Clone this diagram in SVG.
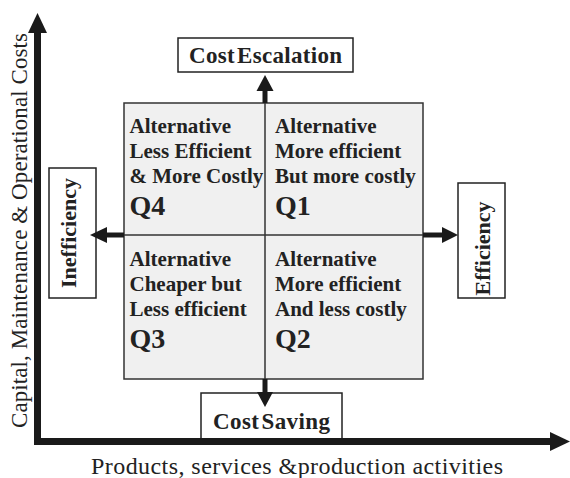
<svg xmlns="http://www.w3.org/2000/svg" width="570" height="478" viewBox="0 0 570 478">
<style>
.box{fill:#ffffff;stroke:#222;stroke-width:1.5}
.quad{fill:#f0f0f0;stroke:#333;stroke-width:1.5}
.div{stroke:#333;stroke-width:1.5;fill:none}
.lbl{font-family:"Liberation Serif","Times New Roman",serif;font-weight:bold;font-size:22px;fill:#222}
.lbl2{font-family:"Liberation Serif","Times New Roman",serif;font-weight:bold;font-size:23px;fill:#222;word-spacing:-4px}
.qt{font-family:"Liberation Serif","Times New Roman",serif;font-weight:bold;font-size:21px;fill:#222}
.qn{font-family:"Liberation Serif","Times New Roman",serif;font-weight:bold;font-size:28px;fill:#222}
.ax{font-family:"Liberation Serif","Times New Roman",serif;font-size:23px;fill:#222}
.shaft{stroke:#1a1a1a;stroke-width:5;fill:none}
.head{fill:#1a1a1a}
.axis{stroke:#1a1a1a;stroke-width:7;fill:none}
</style>
<g id="quadrants">
<rect class="quad" x="124" y="103" width="299" height="276"/>
<line class="div" x1="265" y1="103" x2="265" y2="379"/>
<line class="div" x1="124" y1="235" x2="423" y2="235"/>
</g>
<g id="q4">
<text class="qt" x="129.5" y="133">Alternative</text>
<text class="qt" x="129.5" y="158">Less Efficient</text>
<text class="qt" x="129.5" y="183">&amp; More Costly</text>
<text class="qn" x="129.5" y="215">Q4</text>
</g>
<g id="q1">
<text class="qt" x="275" y="133">Alternative</text>
<text class="qt" x="275" y="158">More efficient</text>
<text class="qt" x="275" y="183">But more costly</text>
<text class="qn" x="275" y="215">Q1</text>
</g>
<g id="q3">
<text class="qt" x="129.5" y="266">Alternative</text>
<text class="qt" x="129.5" y="291">Cheaper but</text>
<text class="qt" x="129.5" y="316">Less efficient</text>
<text class="qn" x="129.5" y="348">Q3</text>
</g>
<g id="q2">
<text class="qt" x="275" y="266">Alternative</text>
<text class="qt" x="275" y="291">More efficient</text>
<text class="qt" x="275" y="316">And less costly</text>
<text class="qn" x="275" y="348">Q2</text>
</g>
<g id="cost-escalation">
<rect class="box" x="178" y="38" width="175" height="34"/>
<text class="lbl2" x="189" y="63" textLength="153">Cost Escalation</text>
</g>
<g id="cost-saving">
<rect class="box" x="201" y="393" width="141" height="48"/>
<text class="lbl2" x="213" y="429" textLength="117">Cost Saving</text>
</g>
<g id="inefficiency">
<rect class="box" x="49" y="168" width="47" height="130"/>
<text class="lbl" transform="translate(76,233) rotate(-90)" text-anchor="middle">Inefficiency</text>
</g>
<g id="efficiency">
<rect class="box" x="458" y="183" width="47" height="115"/>
<text class="lbl" transform="translate(490,248.5) rotate(-90)" text-anchor="middle">Efficiency</text>
</g>
<g id="connectors">
<line class="shaft" x1="265" y1="103" x2="265" y2="89"/>
<polygon class="head" points="265,75 256.5,91 273.5,91"/>
<line class="shaft" x1="265" y1="379" x2="265" y2="394"/>
<polygon class="head" points="265,407 257,392 273,392"/>
<line class="shaft" x1="124" y1="235" x2="106" y2="235"/>
<polygon class="head" points="90,235 107,227 107,243"/>
<line class="shaft" x1="423" y1="235" x2="444" y2="235"/>
<polygon class="head" points="458,235 442,227 442,243"/>
</g>
<g id="axes">
<path class="axis" d="M37.5,30 L37.5,441.5 L552,441.5"/>
<polygon class="head" points="37.5,13 28,33 47,33"/>
<polygon class="head" points="570,441.5 550,432 550,451"/>
<text class="ax" transform="translate(27,230.5) rotate(-90)" text-anchor="middle" textLength="395">Capital, Maintenance &amp; Operational Costs</text>
<text class="ax" x="297" y="474" text-anchor="middle" style="font-size:24px" textLength="412">Products, services &amp;production activities</text>
</g>
</svg>
